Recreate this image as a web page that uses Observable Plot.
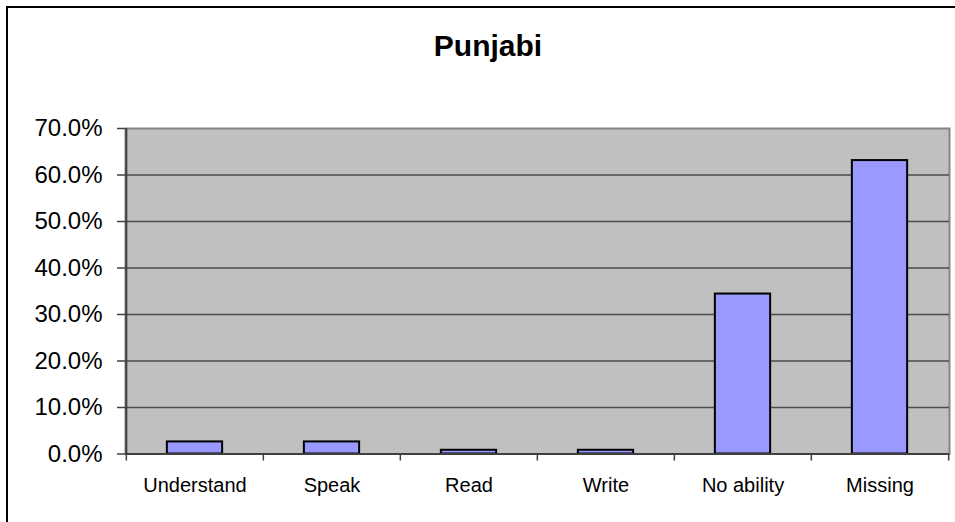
<!DOCTYPE html>
<html>
<head>
<meta charset="utf-8">
<script src="https://cdn.jsdelivr.net/npm/d3@7"></script>
<script src="https://cdn.jsdelivr.net/npm/@observablehq/plot@0.6"></script>
<style>
  html, body { margin: 0; padding: 0; background: #fff; }
  #wrap { position: relative; width: 955px; height: 522px; overflow: hidden; font-family: "Liberation Sans", Arial, sans-serif; }
  #border { position: absolute; left: 6px; top: 6px; width: 1200px; height: 800px; border: 2px solid #000; box-sizing: border-box; }
  #title { position: absolute; left: 0; top: 31px; width: 976px; text-align: center; font-size: 30px; line-height: 30px; font-weight: bold; color: #000; }
  #chart { position: absolute; left: 0; top: 0; }
</style>
</head>
<body>
<div id="wrap">
  <div id="border"></div>
  <div id="chart"></div>
  <div id="title">Punjabi</div>
</div>
<script>
const categories = ["Understand", "Speak", "Read", "Write", "No ability", "Missing"];
const values = [0.026, 0.026, 0.008, 0.008, 0.344, 0.631];
const yTicks = [0, 0.1, 0.2, 0.3, 0.4, 0.5, 0.6, 0.7];

const data = categories.map((c, i) => ({category: c, value: values[i]}));

const W = 955, H = 522;
const mL = 125, mR = 6, mT = 128, mB = 68.5;
const step = (W - mL - mR) / categories.length;
const barW = 55.6;
const inset = (step - barW) / 2;
const plotH = H - mT - mB;

const chart = Plot.plot({
  width: W,
  height: H,
  marginLeft: mL,
  marginRight: mR,
  marginTop: mT,
  marginBottom: mB,
  style: {fontFamily: "'Liberation Sans', Arial, sans-serif", background: "transparent", overflow: "visible"},
  x: {domain: categories, padding: 0, label: null},
  y: {domain: [0, 0.7], label: null},
  marks: [
    Plot.frame({fill: "#c0c0c0", stroke: "#858585", strokeWidth: 2}),
    Plot.ruleY(yTicks.slice(1, -1), {stroke: "#4d4d4d", strokeWidth: 1.5}),
    Plot.barY(data, {x: "category", y: "value", fill: "#9999ff", stroke: "#000", strokeWidth: 2, insetLeft: inset, insetRight: inset}),
    Plot.ruleY([0], {stroke: "#404040", strokeWidth: 2}),
    Plot.ruleX([categories[0]], {dx: -step / 2, stroke: "#404040", strokeWidth: 2}),
    Plot.ruleX(categories, {dx: -step / 2, insetTop: plotH, insetBottom: -7, stroke: "#404040", strokeWidth: 1.5}),
    Plot.ruleX([categories[categories.length - 1]], {dx: step / 2, insetTop: plotH, insetBottom: -7, stroke: "#404040", strokeWidth: 1.5}),
    Plot.axisY({ticks: yTicks, tickFormat: d3.format(".1%"), tickSize: 8, tickPadding: 15, fontSize: 24, stroke: "#404040", strokeWidth: 1.5, color: "#000"}),
    Plot.axisX({tickSize: 0, tickPadding: 24, fontSize: 20, color: "#000"})
  ]
});
document.getElementById("chart").appendChild(chart);
</script>
</body>
</html>
